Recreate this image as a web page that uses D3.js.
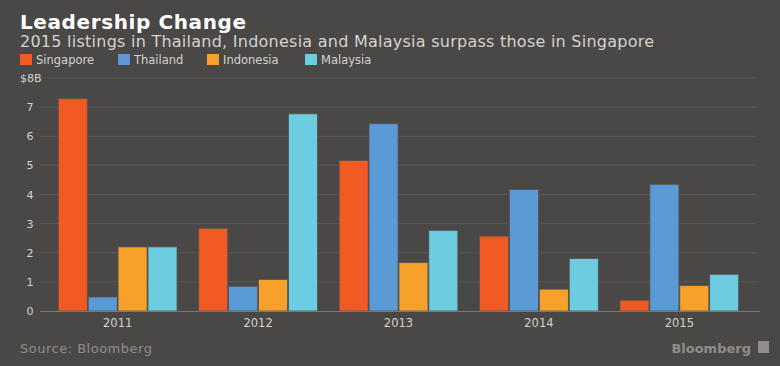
<!DOCTYPE html>
<html>
<head>
<meta charset="utf-8">
<script src="https://cdn.jsdelivr.net/npm/d3@7"></script>
<style>
  body { margin: 0; background: #4a4846; }
  text { font-family: "DejaVu Sans", sans-serif; }
</style>
</head>
<body>
<div id="container"></div>
<script>
let w = 780;
let h = 366;

let years = ["2011", "2012", "2013", "2014", "2015"];
let countries = ["Singapore", "Thailand", "Indonesia", "Malaysia"];
let colors = ["#f15a22", "#5b9bd5", "#f7a12b", "#6dcde0"];
let singapore = [7.29, 2.84, 5.17, 2.57, 0.37];
let thailand = [0.48, 0.85, 6.43, 4.17, 4.35];
let indonesia = [2.2, 1.08, 1.66, 0.75, 0.87];
let malaysia = [2.2, 6.77, 2.77, 1.8, 1.26];
let yTicks = [0, 1, 2, 3, 4, 5, 6, 7, 8];

let series = [singapore, thailand, indonesia, malaysia];

let viz = d3.select("#container")
  .append("svg")
  .attr("width", w)
  .attr("height", h)
  .style("background-color", "#4a4846");

// titles
viz.append("text")
  .text("Leadership Change")
  .attr("x", 20).attr("y", 29)
  .attr("font-size", "20px").attr("font-weight", "bold")
  .attr("letter-spacing", "0.6px")
  .attr("fill", "white");

viz.append("text")
  .text("2015 listings in Thailand, Indonesia and Malaysia surpass those in Singapore")
  .attr("x", 20).attr("y", 47)
  .attr("font-size", "16px")
  .attr("letter-spacing", "0.25px")
  .attr("fill", "#d4d2cf");

// legend
let legendX = [20, 118, 207, 305];
let legend = viz.selectAll(".legend").data(countries).enter()
  .append("g")
  .attr("class", "legend")
  .attr("transform", (d, i) => "translate(" + legendX[i] + ",54)");

legend.append("rect")
  .attr("width", 12).attr("height", 11)
  .attr("fill", (d, i) => colors[i]);

legend.append("text")
  .text(d => d)
  .attr("x", 16).attr("y", 10)
  .attr("font-size", "11.5px")
  .attr("fill", "#d4d2cf");

// scales
let x0 = d3.scaleBand().domain(years).range([40, 757]).paddingInner(0.142).paddingOuter(0.124);
let x1 = d3.scaleBand().domain(countries).range([0, x0.bandwidth()]).padding(0.03);
let y = d3.scaleLinear().domain([0, 8]).range([311, 78]);

// gridlines
viz.selectAll(".grid").data(yTicks.slice(1)).enter()
  .append("line")
  .attr("class", "grid")
  .attr("x1", 40).attr("x2", 757)
  .attr("y1", d => y(d)).attr("y2", d => y(d))
  .attr("stroke", "#595755")
  .attr("stroke-width", 1);

// y labels
viz.selectAll(".ylab").data(yTicks).enter()
  .append("text")
  .attr("class", "ylab")
  .text(d => d == 8 ? "$8B" : d)
  .attr("x", d => d == 8 ? 20 : 30)
  .attr("y", d => y(d) + 4)
  .attr("text-anchor", d => d == 8 ? "start" : "middle")
  .attr("font-size", "11px")
  .attr("fill", "#d4d2cf");

// bars
let groups = viz.selectAll(".yearGroup").data(years).enter()
  .append("g")
  .attr("class", "yearGroup")
  .attr("transform", d => "translate(" + x0(d) + ",0)");

groups.selectAll("rect")
  .data((d, yi) => countries.map((c, ci) => ({ country: c, ci: ci, value: series[ci][yi] })))
  .enter()
  .append("rect")
  .attr("x", d => x1(d.country))
  .attr("y", d => y(d.value))
  .attr("width", x1.bandwidth())
  .attr("height", d => y(0) - y(d.value))
  .attr("fill", d => colors[d.ci])
  .attr("stroke", "#555351")
  .attr("stroke-width", 0.8);

// baseline axis
let xAxis = d3.axisBottom(x0).tickSize(0).tickPadding(8);
let axisG = viz.append("g")
  .attr("transform", "translate(0," + y(0) + ")")
  .call(xAxis);
axisG.select(".domain").attr("d", "M40,0.5H760").attr("stroke", "#7a7876");
axisG.selectAll("text")
  .attr("font-family", "DejaVu Sans, sans-serif")
  .attr("font-size", "11.5px")
  .attr("fill", "#d4d2cf");

// footer
viz.append("text")
  .text("Source: Bloomberg")
  .attr("x", 20).attr("y", 353)
  .attr("font-size", "13px")
  .attr("letter-spacing", "0.5px")
  .attr("fill", "#8f8d8a");

viz.append("text")
  .text("Bloomberg")
  .attr("x", 751).attr("y", 353)
  .attr("text-anchor", "end")
  .attr("font-size", "13px")
  .attr("font-weight", "bold")
  .attr("fill", "#8f8d8a");

viz.append("rect")
  .attr("x", 758).attr("y", 341)
  .attr("width", 11).attr("height", 12)
  .attr("fill", "#8f8d8a");
</script>
</body>
</html>
